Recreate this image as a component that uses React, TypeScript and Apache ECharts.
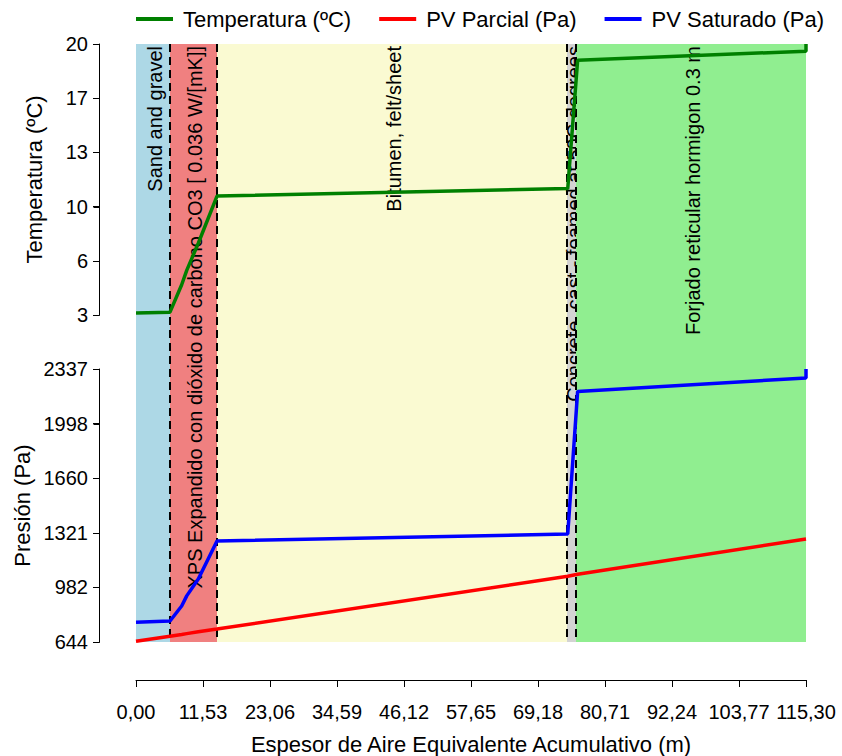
import React, { useEffect, useRef } from "react";
import * as echarts from "echarts";

// ---- data ----
const layerNames = [
  "Sand and gravel",
  "XPS Expandido con dióxido de carbono CO3 [ 0.036 W/[mK]]",
  "Bitumen, felt/sheet",
  "Concrete_cast - foamed at 50C degrees",
  "Forjado reticular hormigon 0.3 m",
];
const layerStart = [0, 5.85, 13.94, 74.17, 75.72];
const layerEnd = [5.85, 13.94, 74.17, 75.72, 115.3];
const layerColors = ["#ADD8E6", "#F08080", "#FAFAD2", "#D3D3D3", "#90EE90"];

const xPos = [0, 5.85, 7.86, 8.73, 10.72, 13.94, 74.3, 76.0, 115.3, 115.3];
const temperatura = [3.12, 3.18, 4.9, 5.8, 7.5, 10.46, 10.93, 18.98, 19.55, 20.0];
const pvSaturado = [766, 774, 867, 930, 1035, 1270, 1314, 2198, 2281, 2337];
const pvParcial = [648, 680, 691, 696, 707, 724, 1052, 1064, 1283, 1283];

const xTicks = [0, 11.53, 23.06, 34.59, 46.12, 57.65, 69.18, 80.71, 92.24, 103.77, 115.3];
const tempTicks = [3, 6.4, 9.8, 13.2, 16.6, 20];
const presTicks = [644, 982, 1321, 1660, 1998, 2337];
const tempRange = [3, 20];
const presRange = [644, 2337];
const X_MAX = 115.3;

const FONT = "'Liberation Sans', Arial, Helvetica, sans-serif";

const blankX = (gridIndex: number) => ({
  type: "value",
  gridIndex,
  min: 0,
  max: 1,
  show: true,
  axisLine: { show: false },
  axisTick: { show: false },
  axisLabel: { show: false },
  splitLine: { show: false },
});

function visibleY(gridIndex: number, range: number[], ticks: number[], name: string, nameGap: number) {
  return {
    type: "value",
    gridIndex,
    position: "left",
    min: range[0],
    max: range[1],
    axisLine: { show: true, lineStyle: { color: "#000000", width: 1 } },
    splitLine: { show: false },
    axisTick: { show: true, length: 6, lineStyle: { color: "#000000", width: 1 }, customValues: ticks },
    axisLabel: {
      show: true,
      customValues: ticks,
      fontSize: 20,
      color: "#000",
      margin: 11,
      fontFamily: FONT,
      formatter: (v: number) => String(Math.round(v)),
    },
    name,
    nameLocation: "middle",
    nameGap,
    nameTextStyle: { fontSize: 22, color: "#000", fontFamily: FONT },
  };
}

// axis line + outward ticks drawn through the axis scale of grid 3 / 4
function axisFrame(axisIndex: number, ticks: number[]) {
  return {
    type: "custom",
    xAxisIndex: axisIndex,
    yAxisIndex: axisIndex,
    z: 6,
    silent: true,
    clip: false,
    data: ticks.map((t) => [0, t]),
    renderItem: (params: any, api: any) => {
      const p = api.coord([0, api.value(1)]);
      const x = Math.round(p[0]) + 0.5;
      const y = Math.round(p[1]) + 0.5;
      const children: any[] = [
        { type: "line", shape: { x1: x - 6, y1: y, x2: x, y2: y }, style: { stroke: "#000", lineWidth: 1 } },
      ];
      if (params.dataIndex === 0) {
        const a = api.coord([0, ticks[0]]);
        const b = api.coord([0, ticks[ticks.length - 1]]);
        children.push({
          type: "line",
          shape: { x1: x, y1: Math.round(a[1]) + 0.5, x2: x, y2: Math.round(b[1]) + 0.5 },
          style: { stroke: "#000", lineWidth: 1 },
        });
      }
      return { type: "group", children };
    },
  };
}

export default function App() {
  const ref = useRef<HTMLDivElement>(null);
  useEffect(() => {
    document.body.style.margin = "0";
    const chart = echarts.init(ref.current!, null, { renderer: "svg" });
    const pairs = (ys: number[]) => xPos.map((x, i) => [x, ys[i]]);
    const layers = layerStart.map((s, i) => [s, layerEnd[i], i]);

    const option: any = {
      animation: false,
      textStyle: { fontFamily: FONT },
      legend: {
        left: 136,
        top: 8,
        padding: 0,
        icon: "rect",
        itemWidth: 37,
        itemHeight: 4,
        itemGap: 28,
        textStyle: { fontSize: 22, color: "#000", fontFamily: FONT, padding: [0, 0, 0, 5] },
        data: ["Temperatura (ºC)", "PV Parcial (Pa)", "PV Saturado (Pa)"],
      },
      grid: [
        { left: 136, right: 36, top: 44, height: 271, outerBoundsMode: "none" },
        { left: 136, right: 36, top: 369, height: 273, outerBoundsMode: "none" },
        { left: 136, right: 36, top: 44, height: 598, outerBoundsMode: "none" },
        { left: 99, width: 10, top: 44, height: 271, outerBoundsMode: "none" },
        { left: 99, width: 10, top: 369, height: 273, outerBoundsMode: "none" },
      ],
      xAxis: [
        { type: "value", gridIndex: 0, min: 0, max: X_MAX, show: false },
        { type: "value", gridIndex: 1, min: 0, max: X_MAX, show: false },
        {
          type: "value",
          gridIndex: 2,
          min: 0,
          max: X_MAX,
          offset: 38,
          axisLine: { show: true, onZero: false, lineStyle: { color: "#000", width: 1 } },
          splitLine: { show: false },
          axisTick: { show: true, length: 7, lineStyle: { color: "#000" }, customValues: xTicks },
          axisLabel: {
            customValues: xTicks,
            fontSize: 20,
            color: "#000",
            margin: 22,
            fontFamily: FONT,
            formatter: (v: number) => v.toFixed(2).replace(".", ","),
          },
          name: "Espesor de Aire Equivalente Acumulativo (m)",
          nameLocation: "middle",
          nameGap: 53,
          nameTextStyle: { fontSize: 22, color: "#000", fontFamily: FONT },
        },
        blankX(3),
        blankX(4),
      ],
      yAxis: [
        { type: "value", gridIndex: 0, min: tempRange[0], max: tempRange[1], show: false },
        { type: "value", gridIndex: 1, min: presRange[0], max: presRange[1], show: false },
        { type: "value", gridIndex: 2, min: 0, max: 1, show: false },
        visibleY(3, tempRange, tempTicks, "Temperatura (ºC)", 54),
        visibleY(4, presRange, presTicks, "Presión (Pa)", 66),
      ],
      series: [
        {
          type: "custom",
          xAxisIndex: 2,
          yAxisIndex: 2,
          z: 1,
          silent: true,
          data: layers,
          renderItem: (params: any, api: any) => {
            const i = api.value(2);
            const p0 = api.coord([api.value(0), 1]);
            const p1 = api.coord([api.value(1), 0]);
            return {
              type: "group",
              children: [
                {
                  type: "rect",
                  shape: { x: p0[0], y: p0[1], width: p1[0] - p0[0], height: p1[1] - p0[1] },
                  style: { fill: layerColors[i] },
                },
                {
                  type: "text",
                  x: (p0[0] + p1[0]) / 2 + 2,
                  y: p0[1] + 2,
                  rotation: Math.PI / 2,
                  style: {
                    text: layerNames[i],
                    fill: "#000",
                    font: `20px ${FONT}`,
                    align: "right",
                    verticalAlign: "middle",
                  },
                },
              ],
            };
          },
        },
        {
          type: "custom",
          xAxisIndex: 2,
          yAxisIndex: 2,
          z: 2,
          silent: true,
          data: layers.slice(1),
          renderItem: (params: any, api: any) => {
            const p0 = api.coord([api.value(0), 1]);
            const p1 = api.coord([api.value(0), 0]);
            return {
              type: "line",
              shape: { x1: p0[0], y1: p0[1], x2: p1[0], y2: p1[1] },
              style: { stroke: "#000", lineWidth: 2, lineDash: [8, 5] },
            };
          },
        },
        axisFrame(3, tempTicks),
        axisFrame(4, presTicks),
        {
          name: "Temperatura (ºC)",
          type: "line",
          xAxisIndex: 0,
          yAxisIndex: 0,
          z: 5,
          clip: false,
          showSymbol: false,
          color: "#008000",
          lineStyle: { width: 3.5, color: "#008000" },
          data: pairs(temperatura),
        },
        {
          name: "PV Parcial (Pa)",
          type: "line",
          xAxisIndex: 1,
          yAxisIndex: 1,
          z: 5,
          clip: false,
          showSymbol: false,
          color: "#FF0000",
          lineStyle: { width: 3.5, color: "#FF0000" },
          data: pairs(pvParcial),
        },
        {
          name: "PV Saturado (Pa)",
          type: "line",
          xAxisIndex: 1,
          yAxisIndex: 1,
          z: 5,
          clip: false,
          showSymbol: false,
          color: "#0000FF",
          lineStyle: { width: 3.5, color: "#0000FF" },
          data: pairs(pvSaturado),
        },
      ],
    };
    chart.setOption(option);
    return () => chart.dispose();
  }, []);
  return <div ref={ref} style={{ width: 842, height: 756 }} />;
}
